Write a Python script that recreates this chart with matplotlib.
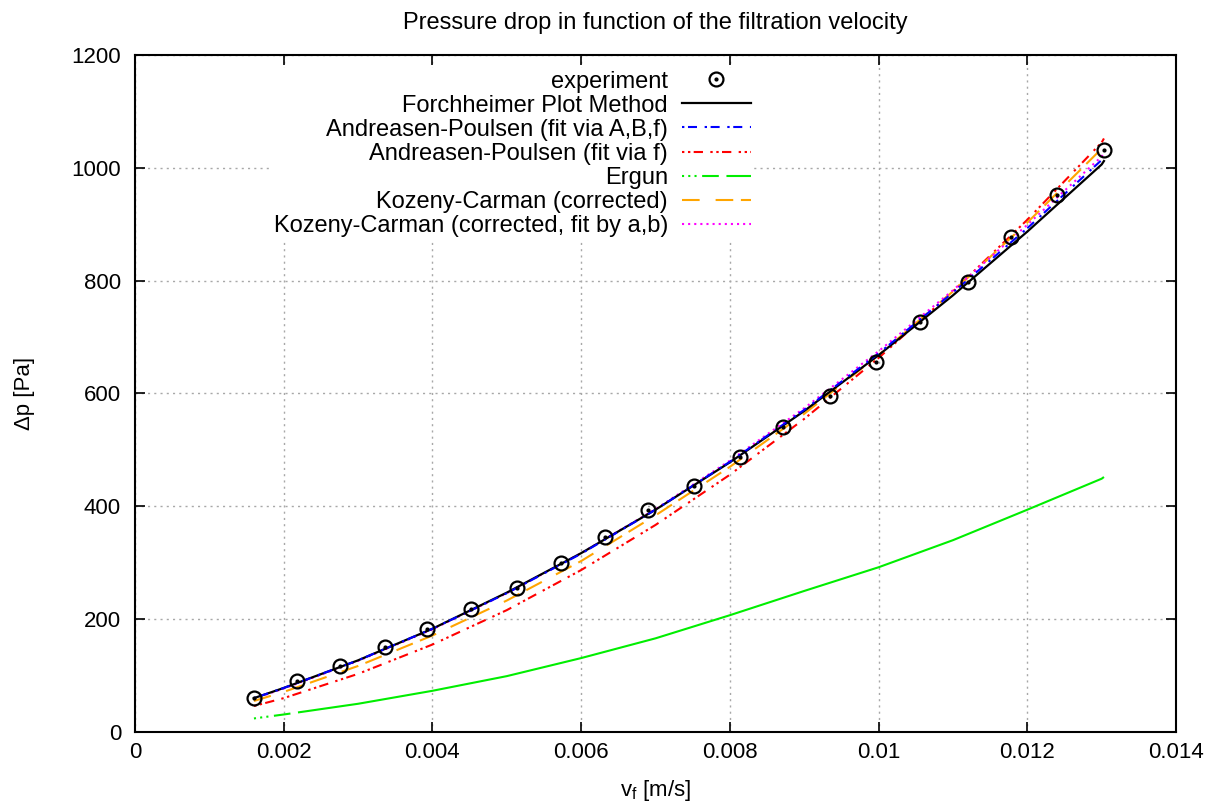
import matplotlib
matplotlib.use('Agg')
import matplotlib.pyplot as plt
import numpy as np

plt.rcParams['font.family'] = ['Liberation Sans', 'DejaVu Sans']
plt.rcParams['mathtext.default'] = 'regular'
plt.rcParams['lines.scale_dashes'] = False

# Messwerte (experiment)
v_exp = [0.00160, 0.00218, 0.00276, 0.00336, 0.00393, 0.00452, 0.00514, 0.00573, 0.00632, 0.00690,
         0.00752, 0.00813, 0.00871, 0.00934, 0.00996, 0.01055, 0.01120, 0.01178, 0.01240, 0.01303]
dp_exp = [60, 91, 117, 151, 182, 218, 256, 300, 345, 393,
          436, 487, 540, 596, 655, 726, 797, 878, 952, 1032]

v_mod = [0.00160, 0.002, 0.003, 0.004, 0.005, 0.006, 0.007, 0.008, 0.009, 0.010, 0.011, 0.012, 0.013, 0.01303]
dp_forch = [60, 78, 127, 183, 247, 317, 394, 478, 569, 668, 774, 887, 1006, 1012]
dp_ap_abf = [60, 78, 127, 183, 246, 316, 394, 479, 571, 671, 779, 893, 1014, 1020]
dp_ap_f = [46, 60, 103, 155, 216, 287, 367, 456, 555, 663, 781, 908, 1045, 1052]
dp_ergun = [24, 31, 50, 73, 99, 131, 166, 207, 250, 292, 340, 394, 449, 452]
dp_kc = [55, 71, 117, 171, 233, 303, 384, 470, 564, 668, 781, 903, 1034, 1040]
dp_kc_ab = [59, 77, 126, 182, 246, 317, 395, 481, 574, 675, 783, 899, 1020, 1026]

fig = plt.figure(figsize=(12.05, 8.05), dpi=100)
ax = fig.add_axes([0.112, 0.0907, 0.864, 0.841])

circ, = ax.plot(v_exp, dp_exp, 'o', ms=10, mfc='none', mec='black', mew=1.6, zorder=5)
dot, = ax.plot(v_exp, dp_exp, 'o', ms=2, mfc='black', mec='black', zorder=5)

l1, = ax.plot(v_mod, dp_forch, color='black', lw=1.6, zorder=4)
l2, = ax.plot(v_mod, dp_ap_abf, color='blue', lw=1.5, dashes=(1.7, 2.6, 6.5, 5.5), zorder=4)
l3, = ax.plot(v_mod, dp_ap_f, color='red', lw=1.5, dashes=(1.7, 2.6, 1.7, 2.4, 6.7, 5.3), zorder=3)
l4, = ax.plot(v_mod, dp_ergun, color='#00ee00', lw=1.5,
              dashes=(1.5, 3, 1.5, 3, 1.5, 4, 12, 5.5, 5000, 5.5), zorder=3)
l5, = ax.plot(v_mod, dp_kc, color='orange', lw=1.5, dashes=(12.7, 11.5, 12.7, 5.5), zorder=3)
l6, = ax.plot(v_mod, dp_kc_ab, color='magenta', lw=1.5, dashes=(1.5, 2.9), zorder=3)

ax.set_xlim(0, 0.014)
ax.set_ylim(0, 1200)
ax.set_xticks(np.arange(0, 0.0141, 0.002))
ax.set_xticklabels(['0', '0.002', '0.004', '0.006', '0.008', '0.01', '0.012', '0.014'])
ax.set_yticks(np.arange(0, 1201, 200))
ax.tick_params(direction='in', length=7, width=1.2, top=True, right=True, labelsize=16)
ax.tick_params(axis='x', pad=7)
ax.tick_params(axis='y', pad=10)
for s in ax.spines.values():
    s.set_linewidth(1.5)
ax.grid(True, color='#a8a8a8', lw=1, linestyle=(0, (1.5, 3)))
ax.set_axisbelow(True)

ax.set_title('Pressure drop in function of the filtration velocity', fontsize=17, pad=19)
ax.set_xlabel(r'v$_f$ [m/s]', fontsize=16, labelpad=11)
ax.set_ylabel('Δp [Pa]', fontsize=16, labelpad=26)

leg = ax.legend([(circ, dot), l1, l2, l3, l4, l5, l6],
                ['experiment', 'Forchheimer Plot Method', 'Andreasen-Poulsen (fit via A,B,f)',
                 'Andreasen-Poulsen (fit via f)', 'Ergun', 'Kozeny-Carman (corrected)',
                 'Kozeny-Carman (corrected, fit by a,b)'],
                loc='upper right', bbox_to_anchor=(0.605, 0.998), markerfirst=False,
                fontsize=17, labelspacing=0.09, handlelength=2.9, handletextpad=0.6,
                borderpad=0.1, fancybox=False, framealpha=1, edgecolor='none')
leg.set_zorder(6)

fig.savefig('out.png', dpi=100)
